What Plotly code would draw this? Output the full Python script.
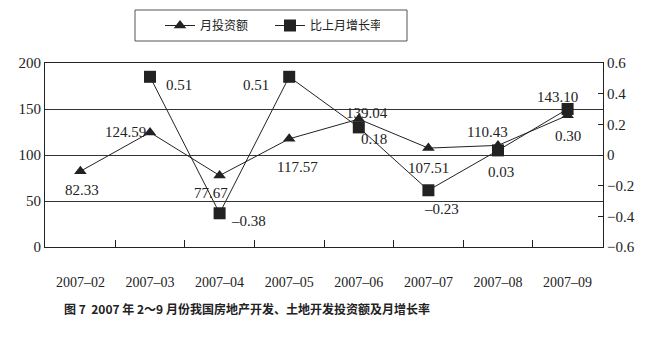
import plotly.graph_objects as go

months = ["2007–02", "2007–03", "2007–04", "2007–05", "2007–06", "2007–07", "2007–08", "2007–09"]
investment = [82.33, 124.59, 77.67, 117.57, 139.04, 107.51, 110.43, 143.10]
growth = [None, 0.51, -0.38, 0.51, 0.18, -0.23, 0.03, 0.30]

# label offsets (pixels) relative to each point: (dx, dy) with dy positive = down
inv_off = [(2, 19), (-25, 0), (-9, 17), (8, 28), (8, -6), (0, 20), (-11, -13), (-10, -18)]
gr_off = [None, (29, 8), (29, 8), (-33, 8), (15, 12), (13, 19), (3, 22), (0, 27)]

serif = "Liberation Serif, Times New Roman, serif"
cjk = "Noto Sans CJK SC, sans-serif"
ink = "#222222"

fig = go.Figure()
fig.add_trace(go.Scatter(
    x=months, y=investment, name="月投资额", mode="lines+markers",
    line=dict(color=ink, width=1),
    marker=dict(symbol="triangle-up", size=11, color=ink),
    yaxis="y", cliponaxis=False,
))
fig.add_trace(go.Scatter(
    x=months, y=growth, name="比上月增长率", mode="lines+markers",
    line=dict(color=ink, width=1),
    marker=dict(symbol="square", size=12, color=ink),
    yaxis="y2", cliponaxis=False,
))

annotations = []
for m, v, (dx, dy) in zip(months, investment, inv_off):
    annotations.append(dict(
        x=m, y=v, xref="x", yref="y", text=f"{v:.2f}", showarrow=False,
        xanchor="center", yanchor="middle", xshift=dx, yshift=-dy,
        font=dict(family=serif, size=15, color=ink),
    ))
for m, v, off in zip(months, growth, gr_off):
    if v is None:
        continue
    dx, dy = off
    annotations.append(dict(
        x=m, y=v, xref="x", yref="y2", text=f"{v:.2f}".replace("-", "\u2013"),
        showarrow=False, xanchor="center", yanchor="middle", xshift=dx, yshift=-dy,
        font=dict(family=serif, size=15, color=ink),
    ))

pw = 650 - 45 - 47
ph = 338 - 63 - 91
annotations.append(dict(
    text="<b>图 7  2007 年 2～9 月份我国房地产开发、土地开发投资额及月增长率</b>",
    x=(62 - 45) / pw, xref="paper", xanchor="left",
    y=(338 - 91 - 308) / ph, yref="paper", yanchor="middle",
    showarrow=False, font=dict(family=cjk, size=12, color=ink),
))

# legend frame (pixel box 135..407 x 10..41)
shapes = [dict(
    type="rect", xref="paper", yref="paper",
    x0=(135 - 45) / pw, x1=(407 - 45) / pw,
    y0=(338 - 91 - 41) / ph, y1=(338 - 91 - 10) / ph,
    line=dict(color="#555555", width=1), fillcolor="rgba(0,0,0,0)", layer="above",
)]

fig.update_layout(
    width=650, height=338,
    margin=dict(l=45, r=47, t=63, b=91),
    paper_bgcolor="white", plot_bgcolor="white",
    showlegend=True,
    legend=dict(
        orientation="h", x=(160 - 45) / pw, xanchor="left",
        y=1 - 25.5 / 338, yanchor="middle", xref="paper", yref="container",
        borderwidth=0, bgcolor="rgba(0,0,0,0)", entrywidth=65,
        font=dict(family=cjk, size=12, color=ink),
    ),
    xaxis=dict(
        type="category", showgrid=False, showline=True, linecolor=ink, mirror=True,
        ticks="inside", ticklen=7, tickcolor=ink, tickson="boundaries",
        tickfont=dict(family=serif, size=14, color=ink),
        ticklabelstandoff=22,
    ),
    yaxis=dict(
        range=[0, 200], dtick=50, showgrid=True, gridcolor="#333333", gridwidth=1,
        showline=True, linecolor=ink, mirror=True, ticks="", zeroline=False,
        tickfont=dict(family=serif, size=15, color=ink),
    ),
    yaxis2=dict(
        range=[-0.6, 0.6], dtick=0.2, overlaying="y", side="right",
        showgrid=False, zeroline=False, showline=True, linecolor=ink,
        ticks="inside", ticklen=5, tickcolor=ink, tickformat=".1~f",
        tickfont=dict(family=serif, size=15, color=ink),
    ),
    annotations=annotations,
    shapes=shapes,
)

fig.write_html("out.html")
